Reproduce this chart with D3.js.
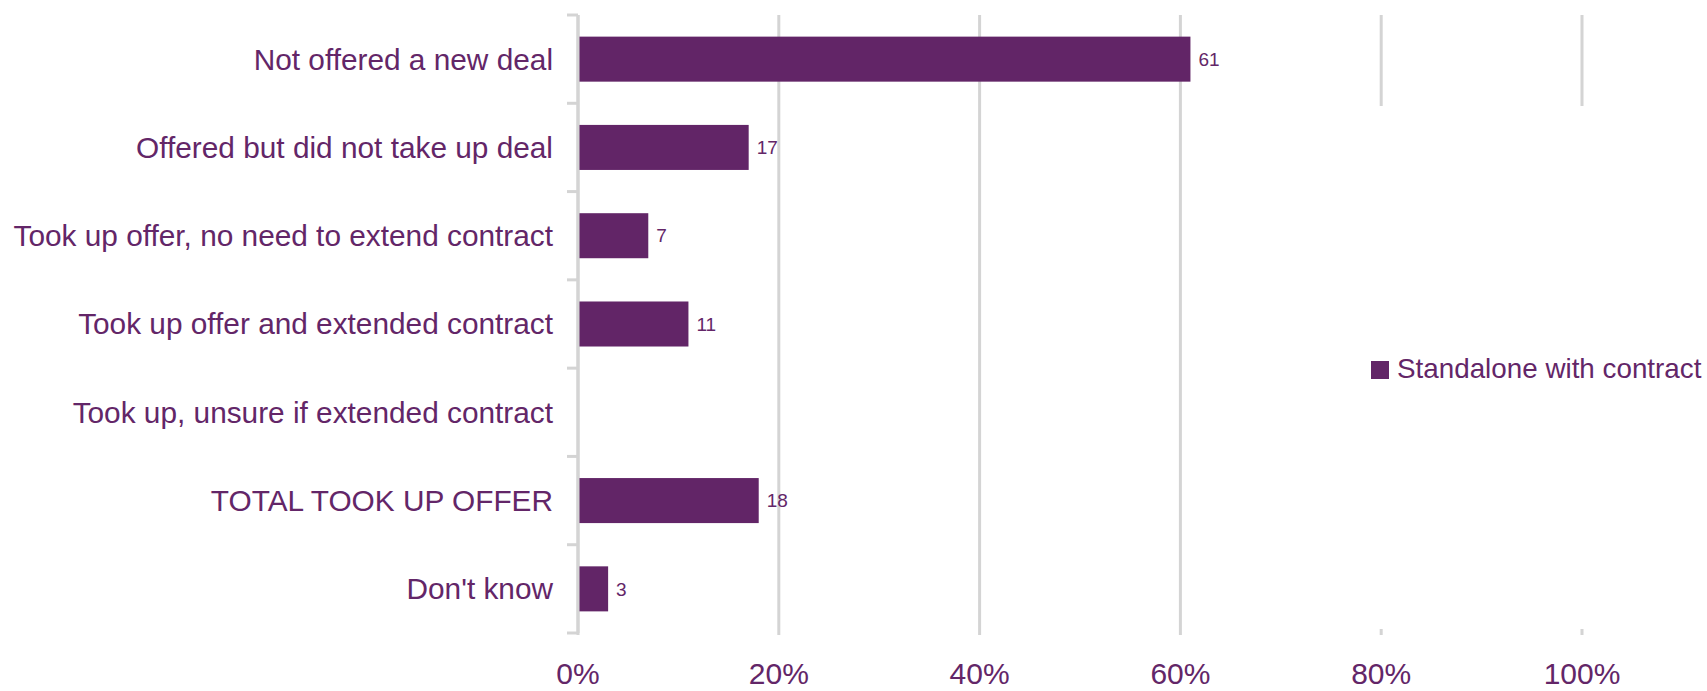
<!DOCTYPE html>
<html>
<head>
<meta charset="utf-8">
<script src="https://cdn.jsdelivr.net/npm/d3@7"></script>
<style>
  html, body { margin: 0; padding: 0; background: #fff; }
  svg { display: block; font-family: "Liberation Sans", Arial, sans-serif; }
</style>
</head>
<body>
<svg id="chart" width="1707" height="691"></svg>
<script>
// Responses by category (percent), single series
const categories = [
  "Not offered a new deal",
  "Offered but did not take up deal",
  "Took up offer, no need to extend contract",
  "Took up offer and extended contract",
  "Took up, unsure if extended contract",
  "TOTAL TOOK UP OFFER",
  "Don't know"
];
const values = [61, 17, 7, 11, null, 18, 3];
const seriesName = "Standalone with contract";
const xTickValues = [0, 20, 40, 60, 80, 100];
const xTickLabels = ["0%", "20%", "40%", "60%", "80%", "100%"];

const purple = "#622567";
const textColor = "#632668";
const gridColor = "#d4d4d4";

const svg = d3.select("#chart");

const plotTop = 15, plotBottom = 633;
const x = d3.scaleLinear().domain([0, 100]).range([578, 1582]);
const y = d3.scaleBand().domain(categories).range([plotTop, plotBottom])
  .paddingInner(0.49).paddingOuter(0.245);

// Vertical gridlines
svg.append("g").selectAll("line").data(xTickValues).join("line")
  .attr("x1", d => x(d)).attr("x2", d => x(d))
  .attr("y1", plotTop).attr("y2", plotBottom + 2)
  .attr("stroke", gridColor).attr("stroke-width", 3);

// X tick labels
svg.append("g").selectAll("text").data(xTickValues).join("text")
  .attr("x", d => x(d)).attr("y", 684)
  .attr("text-anchor", "middle")
  .attr("font-size", 30)
  .attr("fill", textColor)
  .text((d, i) => xTickLabels[i]);

// Legend panel (sits over the right part of the grid)
const legend = svg.append("g");
legend.append("rect")
  .attr("x", 1360).attr("y", 106).attr("width", 347).attr("height", 523)
  .attr("fill", "#fff");
legend.append("rect")
  .attr("x", 1371).attr("y", 361).attr("width", 18).attr("height", 18)
  .attr("fill", purple);
legend.append("text")
  .attr("x", 1397).attr("y", 378)
  .attr("font-size", 27.8).attr("fill", textColor)
  .text(seriesName);

// Bars
const data = categories.map((c, i) => ({ cat: c, v: values[i] }));
svg.append("g").selectAll("rect").data(data.filter(d => d.v != null)).join("rect")
  .attr("x", x(0) + 1)
  .attr("y", d => y(d.cat))
  .attr("width", d => x(d.v) - x(0) - 1)
  .attr("height", y.bandwidth())
  .attr("fill", purple);

// Value labels
svg.append("g").selectAll("text").data(data.filter(d => d.v != null)).join("text")
  .attr("x", d => x(d.v) + 8)
  .attr("y", d => y(d.cat) + y.bandwidth() / 2)
  .attr("dy", "0.35em")
  .attr("font-size", 19)
  .attr("fill", textColor)
  .text(d => d.v);

// Category axis: line with ticks at band boundaries
const step = y.step();
const boundaries = d3.range(categories.length + 1).map(i => plotTop + i * step);
const axis = svg.append("g");
axis.append("line")
  .attr("x1", x(0)).attr("x2", x(0))
  .attr("y1", plotTop).attr("y2", plotBottom)
  .attr("stroke", gridColor).attr("stroke-width", 3);
axis.selectAll("line.tick").data(boundaries).join("line")
  .attr("class", "tick")
  .attr("x1", x(0) - 11).attr("x2", x(0))
  .attr("y1", d => d).attr("y2", d => d)
  .attr("stroke", gridColor).attr("stroke-width", 3);
axis.selectAll("text").data(categories).join("text")
  .attr("x", x(0) - 25)
  .attr("y", d => y(d) + y.bandwidth() / 2)
  .attr("dy", "0.35em")
  .attr("text-anchor", "end")
  .attr("font-size", 29.8)
  .attr("fill", textColor)
  .text(d => d);
</script>
</body>
</html>
